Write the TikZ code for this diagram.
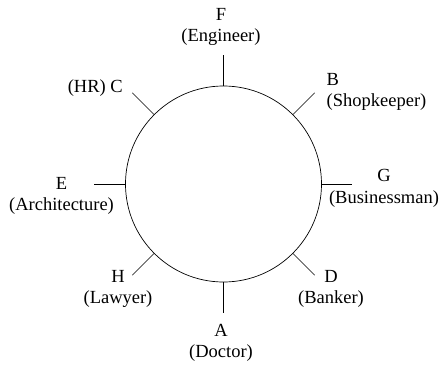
\documentclass[tikz,border=0pt]{standalone}
\usepackage{fontspec}
\setmainfont{Liberation Serif}
\usetikzlibrary{positioning}

\begin{document}
\begin{tikzpicture}[x=1pt,y=1pt,font=\fontsize{18.5}{21.5}\selectfont,
  lab/.style={align=center,inner sep=0pt},
  spoke/.style={line width=0.7pt}]
\useasboundingbox (-223.5,-183) rectangle (221.5,184);
% round table
\node[draw,circle,line width=0.7pt,minimum size=196pt,inner sep=0pt] (table) at (0,0) {};
% seats
\foreach \a/\s in {90/f,45/b,0/g,-45/d,-90/a,-135/h,180/e,135/c}{
  \coordinate (t\s) at (\a:129);
  \draw[spoke] (table.\a) -- (t\s);}
% people
\node[lab] (F) at (-2.5,157) {F\\(Engineer)};
\node[lab,align=left,anchor=west] (B) at (103,92) {B\\(Shopkeeper)};
\node[lab] (G) at (160.5,-4.5) {G\\(Businessman)};
\node[lab] (D) at (107.5,-105) {D\\(Banker)};
\node[lab] (A) at (-2.5,-159) {A\\(Doctor)};
\node[lab] (H) at (-105.5,-105) {H\\(Lawyer)};
\node[lab] (E) at (-162,-12) {E\\(Architecture)};
\node[lab,anchor=east] (C) at (-100.5,96) {(HR) C};
\end{tikzpicture}
\end{document}
